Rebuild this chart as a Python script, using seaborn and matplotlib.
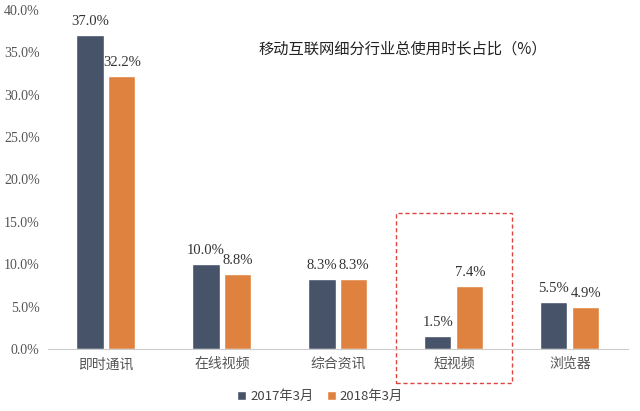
import matplotlib
matplotlib.use("Agg")
import matplotlib.pyplot as plt
import matplotlib.patches as mpatches
import seaborn as sns
import pandas as pd

sns.set_style("white")
plt.rcParams['font.family'] = ['Noto Sans CJK SC', 'DejaVu Sans']

categories = ['即时通讯', '在线视频', '综合资讯', '短视频', '浏览器']
series_names = ['2017年3月', '2018年3月']
v2017 = [37.0, 10.0, 8.3, 1.5, 5.5]
v2018 = [32.2, 8.8, 8.3, 7.4, 4.9]
yticks = [0, 5, 10, 15, 20, 25, 30, 35, 40]
colors = ['#465369', '#E0823F']
title = '移动互联网细分行业总使用时长占比（%）'

df = pd.DataFrame({
    'cat': categories * 2,
    'series': [series_names[0]] * len(categories) + [series_names[1]] * len(categories),
    'value': v2017 + v2018,
})

fig = plt.figure(figsize=(6.4, 4.11), dpi=100)
ax = fig.add_axes([0.075, 0.151, 0.906, 0.825])

sns.barplot(data=df, x='cat', y='value', hue='series', palette=colors,
            width=0.55, gap=0.15, saturation=1, ax=ax, legend=True)

for cont in ax.containers:
    ax.bar_label(cont, fmt='%.1f%%', padding=5, fontsize=10.5,
                 family='Liberation Serif', color='#333333')

ax.set_ylim(0, 40)
ax.set_xlim(-0.5, len(categories) - 0.5)
ax.set_yticks(yticks)
ax.set_yticklabels([f'{t:.1f}%' for t in yticks], family='Liberation Serif',
                   fontsize=10, color='#555555')
ax.tick_params(axis='x', labelsize=10, colors='#555555', length=0, pad=6)
ax.tick_params(axis='y', length=0, pad=6)
ax.set_xlabel('')
ax.set_ylabel('')
for side in ['top', 'right', 'left']:
    ax.spines[side].set_visible(False)
ax.spines['bottom'].set_color('#cccccc')

ax.text(0.612, 0.885, title, transform=ax.transAxes, ha='center', va='center',
        fontsize=11, color='#222222')

# dashed highlight box around 短视频
box = mpatches.Rectangle((2.5, -4.0), 1.0, 20.0, fill=False, linestyle=(0, (3, 2)),
                         edgecolor='#d9473f', linewidth=1.0, clip_on=False)
ax.add_patch(box)

handles, labels = ax.get_legend_handles_labels()
ax.legend(handles, labels, loc='lower center', bbox_to_anchor=(0.5, -0.01),
          bbox_transform=fig.transFigure, ncol=2, frameon=False, fontsize=9.5,
          handlelength=0.7, handleheight=0.7, handletextpad=0.3, columnspacing=1.0,
          labelcolor='#444444')

fig.savefig('out.png', dpi=100)
